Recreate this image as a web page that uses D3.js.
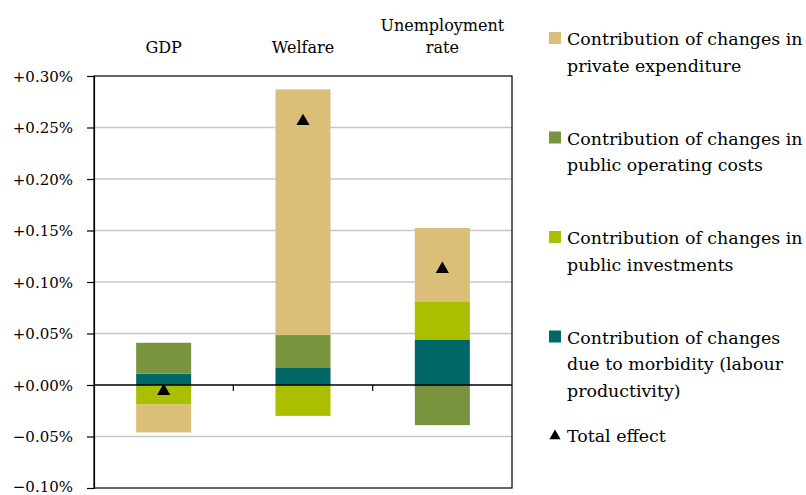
<!DOCTYPE html>
<html>
<head>
<meta charset="utf-8">
<script src="https://cdn.jsdelivr.net/npm/d3@7"></script>
<style>
html,body{margin:0;padding:0;background:#fff;}
svg{display:block;font-family:"DejaVu Serif",serif;}
</style>
</head>
<body>
<svg id="chart" width="806" height="495"></svg>
<script>
// ---- data (values in %) ----
const categories = ["GDP", "Welfare", "Unemployment rate"];
const categoryLines = [["GDP"], ["Welfare"], ["Unemployment", "rate"]];
const morbidity   = [0.011, 0.0165, 0.0437];
const investments = [-0.019, -0.030, 0.0369];
const operating   = [0.030, 0.032, -0.039];
const privateExp  = [-0.027, 0.2385, 0.0718];
const totalEffect = [-0.005, 0.257, 0.1134];
const yTicks = [-0.10, -0.05, 0.00, 0.05, 0.10, 0.15, 0.20, 0.25, 0.30];
const seriesKeys = ["morbidity", "investments", "operating", "private"];
const seriesColors = {private: "#dbbe78", operating: "#79943e", investments: "#aabf00", morbidity: "#006767"};
const legendItems = [
  {key: "private", lines: ["Contribution of changes in", "private expenditure"]},
  {key: "operating", lines: ["Contribution of changes in", "public operating costs"]},
  {key: "investments", lines: ["Contribution of changes in", "public investments"]},
  {key: "morbidity", lines: ["Contribution of changes", "due to morbidity (labour", "productivity)"]}
];

const rows = categories.map((c, i) => ({
  cat: c, morbidity: morbidity[i], investments: investments[i],
  operating: operating[i], private: privateExp[i]
}));

const svg = d3.select("#chart");
const plot = {left: 94, right: 512, top: 76, bottom: 488};

const x = d3.scaleBand().domain(categories).range([plot.left, plot.right]).paddingInner(0).paddingOuter(0);
const y = d3.scaleLinear().domain([-0.10, 0.30]).range([plot.bottom, plot.top]);

// gridlines
svg.append("g").selectAll("line").data(yTicks.filter(t => t !== 0 && t !== 0.30 && t !== -0.10)).join("line")
  .attr("x1", plot.left).attr("x2", plot.right)
  .attr("y1", d => y(d)).attr("y2", d => y(d))
  .attr("stroke", "#c6c6c6").attr("stroke-width", 1.5);

// stacks
const stack = d3.stack().keys(seriesKeys).offset(d3.stackOffsetDiverging);
const stacked = stack(rows);
const barW = x.bandwidth() * 0.395;
svg.append("g").selectAll("g").data(stacked).join("g")
  .attr("fill", d => seriesColors[d.key])
  .selectAll("rect").data(d => d).join("rect")
  .attr("x", d => x(d.data.cat) + (x.bandwidth() - barW) / 2)
  .attr("width", barW)
  .attr("y", d => y(Math.max(d[0], d[1])))
  .attr("height", d => Math.abs(y(d[0]) - y(d[1])));

// plot border
svg.append("rect").attr("x", plot.left).attr("y", plot.top)
  .attr("width", plot.right - plot.left).attr("height", plot.bottom - plot.top)
  .attr("fill", "none").attr("stroke", "#000").attr("stroke-width", 1.2);

// zero line
svg.append("line").attr("x1", plot.left).attr("x2", plot.right)
  .attr("y1", y(0)).attr("y2", y(0)).attr("stroke", "#000").attr("stroke-width", 1.3);

// x ticks at band boundaries on zero line
svg.append("g").selectAll("line").data(categories.slice(1)).join("line")
  .attr("x1", d => x(d)).attr("x2", d => x(d))
  .attr("y1", y(0)).attr("y2", y(0) + 6)
  .attr("stroke", "#000").attr("stroke-width", 1.2);

// y axis
const fmt = v => (v >= 0 ? "+" : "") + d3.format(".2f")(v) + "%";
const yAxis = d3.axisLeft(y).tickValues(yTicks).tickFormat(fmt).tickSize(7).tickPadding(14);
const ya = svg.append("g").attr("transform", `translate(${plot.left},0)`).call(yAxis);
ya.select(".domain").attr("stroke", "#000").attr("stroke-width", 1.2);
ya.selectAll(".tick line").attr("stroke", "#000").attr("stroke-width", 1.2);
ya.selectAll(".tick text").attr("font-family", "DejaVu Serif").attr("font-size", 15).attr("fill", "#000")
  .attr("dy", d => d === -0.10 ? "0.2em" : "0.35em");

// total effect markers
const tri = d3.symbol().type(d3.symbolTriangle).size(75);
svg.append("g").selectAll("path").data(totalEffect).join("path")
  .attr("d", tri)
  .attr("transform", (d, i) => `translate(${x(categories[i]) + x.bandwidth() / 2},${y(d) + 1})`)
  .attr("fill", "#000");

// category labels
const catG = svg.append("g").attr("font-size", 16).attr("fill", "#000").attr("text-anchor", "middle");
categoryLines.forEach((lines, i) => {
  const cx = x(categories[i]) + x.bandwidth() / 2;
  lines.forEach((ln, j) => {
    catG.append("text").attr("x", cx).attr("y", 53 - (lines.length - 1 - j) * 22).text(ln);
  });
});

// legend
const lg = svg.append("g").attr("font-size", 17.4).attr("fill", "#000");
const lineH = 26.5;
legendItems.forEach((it, i) => {
  const base = 45 + i * 99.5;
  lg.append("rect").attr("x", 549).attr("y", base - 13).attr("width", 12).attr("height", 12)
    .attr("fill", seriesColors[it.key]);
  it.lines.forEach((ln, j) => {
    lg.append("text").attr("x", 567).attr("y", base + j * lineH).text(ln);
  });
});
const tBase = 442;
lg.append("path").attr("d", d3.symbol().type(d3.symbolTriangle).size(55))
  .attr("transform", `translate(555,${tBase - 6})`).attr("fill", "#000");
lg.append("text").attr("x", 567).attr("y", tBase).text("Total effect");
</script>
</body>
</html>
